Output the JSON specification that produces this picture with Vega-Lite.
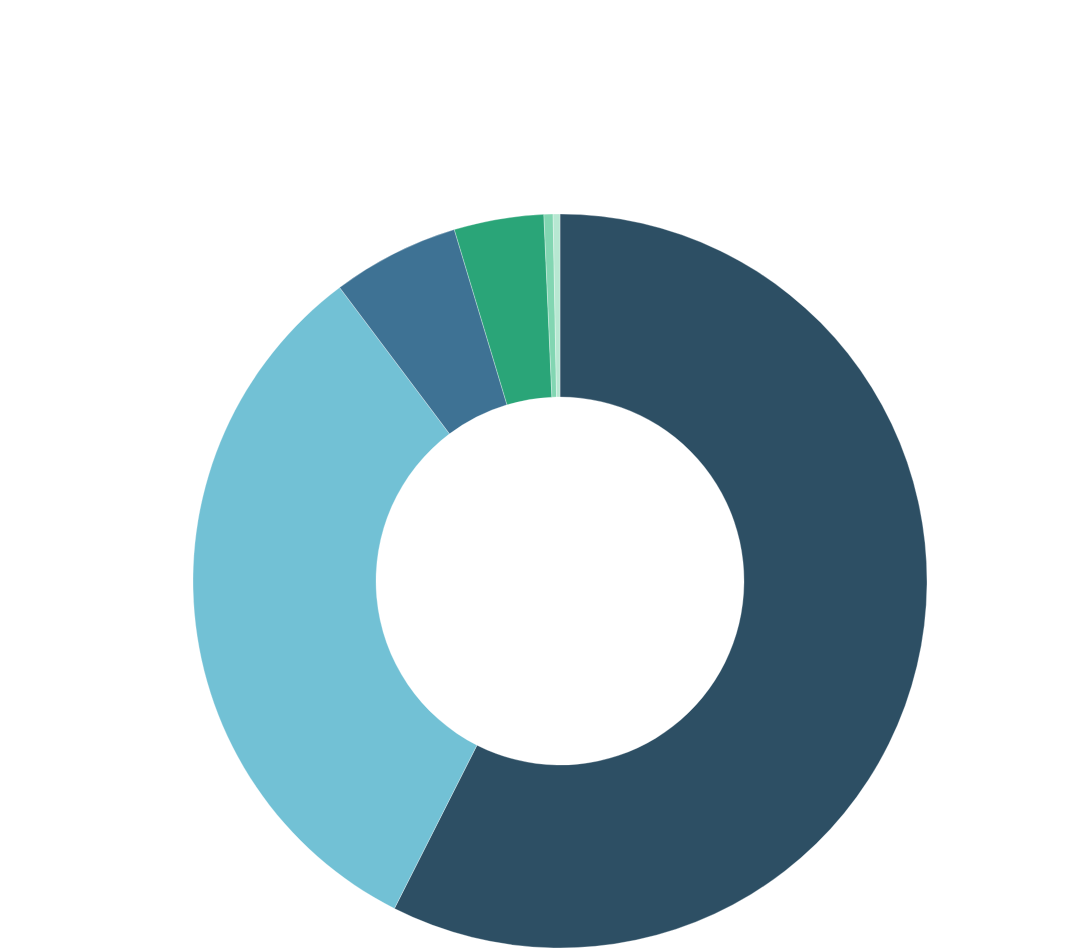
{
  "$schema": "https://vega.github.io/schema/vega-lite/v6.json",
  "width": 734,
  "height": 734,
  "padding": {"left": 192, "top": 213, "right": 5, "bottom": 5},
  "background": "white",
  "view": {"stroke": null},
  "data": {
    "values": [
      {"category": "A", "value": 57.45, "order": 1},
      {"category": "B", "value": 32.3, "order": 2},
      {"category": "C", "value": 5.6, "order": 3},
      {"category": "D", "value": 3.95, "order": 4},
      {"category": "E", "value": 0.4, "order": 5},
      {"category": "F", "value": 0.3, "order": 6}
    ]
  },
  "mark": {"type": "arc", "innerRadius": 184, "outerRadius": 367, "stroke": "#ffffff", "strokeWidth": 0.3},
  "encoding": {
    "theta": {"field": "value", "type": "quantitative", "stack": true},
    "order": {"field": "order", "type": "quantitative"},
    "color": {
      "field": "category",
      "type": "nominal",
      "legend": null,
      "scale": {
        "domain": ["A", "B", "C", "D", "E", "F"],
        "range": ["#2d4f64", "#72c1d5", "#3e7294", "#2aa578", "#82d6b2", "#b7e8d2"]
      }
    }
  }
}
